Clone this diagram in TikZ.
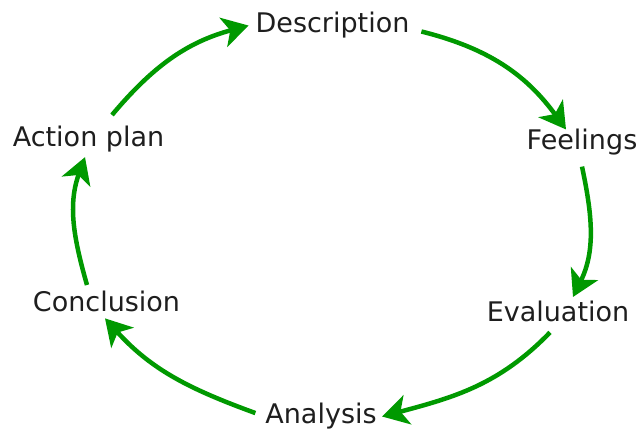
\documentclass[tikz,border=0pt]{standalone}
\usepackage{fontspec}
\setmainfont{DejaVu Sans}
\usepackage{tikz}
\usetikzlibrary{arrows.meta,positioning}
\usepackage{xcolor}
\definecolor{cyclegreen}{RGB}{0,153,0}
\definecolor{cycletext}{RGB}{30,30,30}
\tikzstyle{arrow} = [line width=4.5pt,-{Stealth[length=26pt,width=30pt,inset=7pt]},color=cyclegreen]
\tikzstyle{stage} = [inner sep=0pt, outer sep=0pt, anchor=base, text=cycletext, font=\fontsize{27}{32}\selectfont]

\begin{document}
\begin{tikzpicture}[x=1pt, y=1pt]
\useasboundingbox (0,0) rectangle (643,433);
% Nodes
\node (description) [stage] at (332.5,400) {Description};
\node (feelings) [stage] at (582,283) {Feelings};
\node (evaluation) [stage] at (558,111) {Evaluation};
\node (analysis) [stage] at (321,9) {Analysis};
\node (conclusion) [stage] at (106.5,121) {Conclusion};
\node (actionplan) [stage] at (88.5,286) {Action plan};

% Arrows round the cycle
\draw[arrow] ([shift={(12pt,1.5pt)}]description.base east) to[out=-14, in=126] ([xshift=-16pt]feelings.north);
\draw[arrow] ([yshift=-11pt]feelings.south) to[out=-78, in=64] ([shift={(15pt,4.5pt)}]evaluation.north);
\draw[arrow] ([shift={(-8pt,-10pt)}]evaluation.south) to[out=-134, in=15] ([xshift=5.5pt]analysis.east);
\draw[arrow] ([shift={(-10pt,3.5pt)}]analysis.west) to[out=160, in=-48] ([shift={(-1.5pt,-6pt)}]conclusion.south);
\draw[arrow] ([shift={(-19.5pt,6.5pt)}]conclusion.north) to[out=106, in=-110] ([shift={(-3.5pt,-4.5pt)}]actionplan.south);
\draw[arrow] ([shift={(23.5pt,11.5pt)}]actionplan.north) to[out=50, in=-165] ([xshift=-7pt]description.west);
\end{tikzpicture}
\end{document}
